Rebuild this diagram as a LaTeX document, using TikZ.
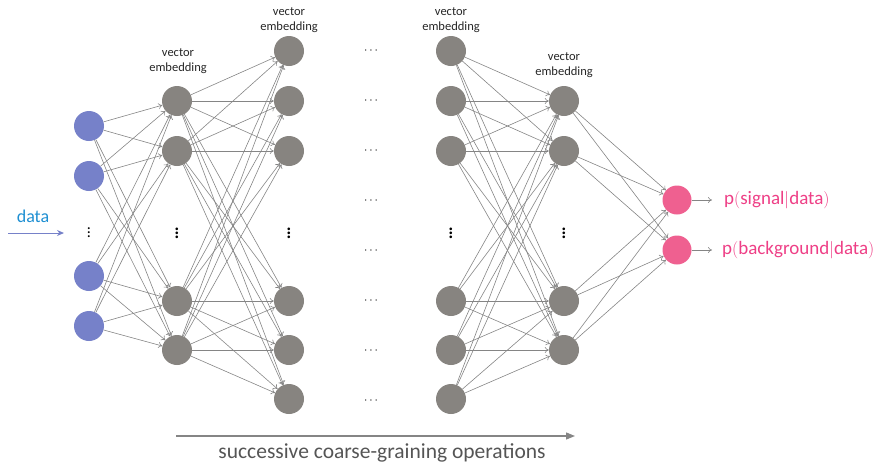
\documentclass[tikz,border=0pt]{standalone}
\usepackage{fontspec}
\setmainfont{Carlito}
\usetikzlibrary{arrows.meta}
\definecolor{nblue}{HTML}{7681C9}
\definecolor{ngray}{HTML}{878480}
\definecolor{npink}{HTML}{EF6090}
\definecolor{tpink}{HTML}{EE3F86}
\definecolor{tblue}{HTML}{1E8FD2}
\definecolor{egray}{HTML}{858585}
\definecolor{tgray}{HTML}{555555}
\begin{document}
\begin{tikzpicture}[x=1pt,y=-1pt,
  neuron/.style={circle,minimum size=30pt,inner sep=0pt,draw=none},
  edge/.style={draw=egray,line width=0.6pt,-{To[length=4pt,width=6pt]}},
  lbl/.style={font=\fontsize{12.5}{15}\selectfont,align=center,text=black!85},
  vd/.style={font=\fontsize{22}{22}\selectfont,inner sep=0pt},
  hd/.style={font=\fontsize{12.5}{15}\selectfont},
  ptxt/.style={anchor=west,text=tpink,font=\fontsize{19}{21}\selectfont,inner sep=0pt}]
\useasboundingbox (0,0) rectangle (881,464);
% layers
\foreach \i/\y in {1/126,2/176,3/276,4/326} \node[neuron,fill=nblue] (a\i) at (89,\y) {};
\foreach \i/\y in {1/101,2/151,3/301,4/350} \node[neuron,fill=ngray] (b\i) at (177,\y) {};
\foreach \i/\y in {1/51,2/101,3/151,4/301,5/350,6/399} \node[neuron,fill=ngray] (c\i) at (289,\y) {};
\foreach \i/\y in {1/51,2/101,3/151,4/301,5/350,6/399} \node[neuron,fill=ngray] (d\i) at (451,\y) {};
\foreach \i/\y in {1/101,2/151,3/301,4/350} \node[neuron,fill=ngray] (e\i) at (564,\y) {};
\foreach \i/\y in {1/200,2/250} \node[neuron,minimum size=29pt,fill=npink] (o\i) at (677,\y) {};
% edges
\foreach \i in {1,...,4} \foreach \j in {1,...,4} \draw[edge] (a\i) -- (b\j);
\foreach \i in {1,...,4} \foreach \j in {1,...,6} \draw[edge] (b\i) -- (c\j);
\foreach \i in {1,...,6} \foreach \j in {1,...,4} \draw[edge] (d\i) -- (e\j);
\foreach \i in {1,...,4} \foreach \j in {1,2} \draw[edge] (e\i) -- (o\j);
% vertical dots
\node[font=\fontsize{16}{16}\selectfont,inner sep=0pt] (va) at (89,230) {$\vdots$};
\node[vd] (vb) at (177,230) {$\vdots$};
\node[vd] (vc) at (289,230) {$\vdots$};
\node[vd] (vd4) at (451,230) {$\vdots$};
\node[vd] (ve) at (564,230) {$\vdots$};
% horizontal dots
\foreach \k/\y in {1/51,2/101,3/151,4/201,5/251,6/301,7/351,8/401} \node[hd] (h\k) at (371,\y) {$\cdots$};
% labels
\node[lbl] (l2) at (178,61) {vector\\embedding};
\node[lbl] (l3) at (289,20) {vector\\embedding};
\node[lbl] (l4) at (451,20) {vector\\embedding};
\node[lbl] (l5) at (564,65) {vector\\embedding};
% data input
\coordinate (ds) at (8,233);
\coordinate (de) at (64,233);
\draw[draw=nblue,line width=1pt,-{Stealth[length=7pt,width=6pt]}] (ds) -- (de);
\node[text=tblue,font=\fontsize{18}{20}\selectfont] (dl) at (33,216) {data};
% outputs
\coordinate (oe1) at (712,200);
\coordinate (oe2) at (712,250);
\draw[edge] (o1) -- (oe1);
\draw[edge] (o2) -- (oe2);
\node[ptxt] (p1) at (724,200) {p$($signal$|$data$)$};
\node[ptxt] (p2) at (722,250) {p$($background$|$data$)$};
% bottom arrow
\coordinate (bs) at (176,436);
\coordinate (be) at (575,436);
\draw[draw=egray,line width=1.3pt,-{Triangle[length=9pt,width=7pt]}] (bs) -- (be);
\node[text=tgray,font=\fontsize{21.5}{23}\selectfont] (bt) at (382,453) {successive coarse-graining operations};
\end{tikzpicture}
\end{document}
